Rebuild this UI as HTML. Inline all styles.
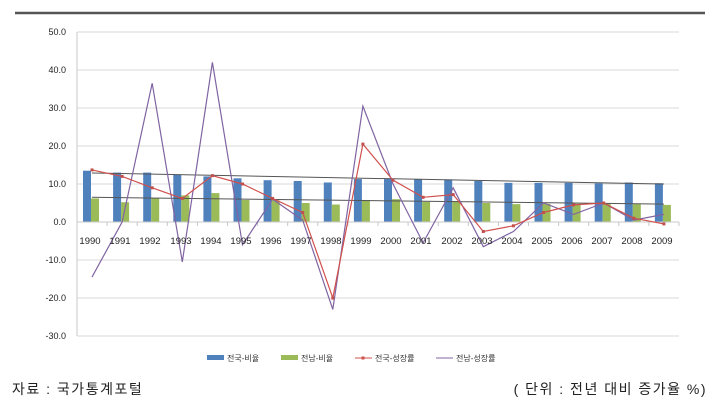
<!DOCTYPE html><html><head><meta charset="utf-8"><style>body{margin:0;background:#fff;width:720px;height:406px;overflow:hidden;font-family:"Liberation Sans","Noto Sans CJK KR",sans-serif}</style></head><body>
<svg id="s" width="720" height="406" xmlns="http://www.w3.org/2000/svg" font-family="Liberation Sans, Noto Sans CJK KR, sans-serif">
<line x1="15" y1="13" x2="705" y2="13" stroke="#555" stroke-width="2.5"/>
<g id="grid" stroke="#d9d9d9" stroke-width="1"></g>
<line x1="77" y1="32" x2="77" y2="336" stroke="#c8c8c8"/>
<g font-size="9" fill="#222" text-anchor="end">
<text x="66" y="35">50.0</text><text x="66" y="73">40.0</text><text x="66" y="111">30.0</text><text x="66" y="149">20.0</text><text x="66" y="187">10.0</text><text x="66" y="225">0.0</text><text x="66" y="263">-10.0</text><text x="66" y="301">-20.0</text><text x="66" y="339">-30.0</text>
</g>
<g id="plot"></g>
<g font-size="9.5" fill="#222" text-anchor="middle">
<text x="90" y="244">1990</text><text x="120" y="244">1991</text><text x="150" y="244">1992</text><text x="181" y="244">1993</text><text x="211" y="244">1994</text><text x="241" y="244">1995</text><text x="271" y="244">1996</text><text x="301" y="244">1997</text><text x="331" y="244">1998</text><text x="361" y="244">1999</text><text x="391" y="244">2000</text><text x="421" y="244">2001</text><text x="452" y="244">2002</text><text x="482" y="244">2003</text><text x="512" y="244">2004</text><text x="542" y="244">2005</text><text x="572" y="244">2006</text><text x="602" y="244">2007</text><text x="632" y="244">2008</text><text x="662" y="244">2009</text>
</g>
<g font-size="8" fill="#333">
<rect x="207" y="355" width="17" height="5" fill="#4f81bd"/><text x="227" y="361">전국-비율</text>
<rect x="281" y="355" width="17" height="5" fill="#9bbb59"/><text x="301" y="361">전남-비율</text>
<line x1="355" y1="358" x2="372" y2="358" stroke="#d0504d"/><rect x="361.5" y="356.5" width="3" height="3" fill="#d0504d"/><text x="375" y="361">전국-성장률</text>
<line x1="436" y1="358" x2="453" y2="358" stroke="#8064a2"/><text x="456" y="361">전남-성장률</text>
</g>
<text x="12" y="394" font-size="14" fill="#222" letter-spacing="1.5">자료 : 국가통계포털</text>
<text x="707" y="394" font-size="14" fill="#222" text-anchor="end" letter-spacing="1.5">( 단위 : 전년 대비 증가율 %)</text>
</svg>
<script>
var NS="http://www.w3.org/2000/svg",g=document.getElementById("grid"),p=document.getElementById("plot");
function el(t,a,par){var e=document.createElementNS(NS,t);for(var k in a)e.setAttribute(k,a[k]);(par||p).appendChild(e);return e;}
function Y(v){return 222-3.8*v}
for(var v=50;v>=-30;v-=10){if(v!==0)el("line",{x1:77,x2:679,y1:Y(v),y2:Y(v)},g);}
var X=function(i){return 92+30.1*i};
var a=[13.5,13,13,12.5,12,11.5,11,10.8,10.4,11.3,11.3,11.3,11.2,10.8,10.3,10.3,10.3,10.2,10.4,10.2];
var b=[6.2,5.2,6.3,7,7.6,5.8,5.7,5,4.6,5.8,6,5.3,5.5,5,4.7,4.8,4.8,5,4.7,4.5];
var c=[13.7,12,9,6.2,12.2,10,6.2,2.5,-20,20.5,11,6.5,7.2,-2.5,-1,2.5,4.5,5,1,-0.5];
var d=[-14.5,0,36.5,-10.5,42,-6,6,0.5,-23,30.5,10,-5.5,9,-6.5,-2.5,5,2,5,0.5,2];
for(var i=0;i<20;i++){
el("rect",{x:X(i)-9,y:Y(a[i]),width:8,height:3.8*a[i],fill:"#4f81bd"});
el("rect",{x:X(i)-1,y:Y(b[i]),width:8,height:3.8*b[i],fill:"#9bbb59"});
}
el("line",{x1:77,x2:679,y1:222,y2:222,stroke:"#c8c8c8"});
for(var i=0;i<=20;i++)el("line",{x1:77+30.1*i,x2:77+30.1*i,y1:222,y2:226,stroke:"#c8c8c8"});
el("line",{x1:X(0),x2:X(19),y1:Y(12.9),y2:Y(10),stroke:"#555","stroke-width":1});
el("line",{x1:X(0),x2:X(19),y1:Y(6.5),y2:Y(4.7),stroke:"#555","stroke-width":1});
function pl(arr,col){var s=arr.map(function(v,i){return X(i)+","+Y(v)}).join(" ");el("polyline",{points:s,fill:"none",stroke:col,"stroke-width":1.2});}
pl(d,"#8064a2");pl(c,"#d0504d");
for(var i=0;i<20;i++)el("rect",{x:X(i)-1.5,y:Y(c[i])-1.5,width:3,height:3,fill:"#c0504d"});
</script>
</body></html>
